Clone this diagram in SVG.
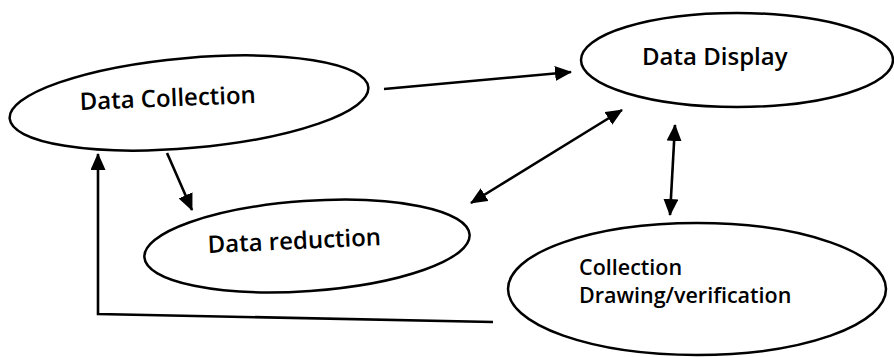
<svg xmlns="http://www.w3.org/2000/svg" width="894" height="357" viewBox="0 0 894 357">
  <style>
    .node { fill: #ffffff; stroke: #000000; stroke-width: 2.5; }
    .lbl { font-family: "Open Sans", "Liberation Sans", sans-serif; fill: #000000; font-weight: 600; }
    .big { font-size: 24px; }
    .small { font-size: 21.5px; }
    .conn { fill: none; stroke: #000000; stroke-width: 2.6; }
  </style>
  <defs>
    <marker id="ah" viewBox="0 0 17 15" refX="16" refY="7.5" markerWidth="17" markerHeight="15" markerUnits="userSpaceOnUse" orient="auto-start-reverse">
      <polygon points="0,0 17,7.5 0,15" fill="#000000"/>
    </marker>
  </defs>
  <rect width="894" height="357" fill="#ffffff"/>

  <g id="node-data-collection">
    <ellipse class="node" cx="189" cy="103" rx="180" ry="45" transform="rotate(-5 189 103)"/>
    <text class="lbl big" x="80" y="110" transform="rotate(-2.3 80 110)">Data Collection</text>
  </g>

  <g id="node-data-display">
    <ellipse class="node" cx="737" cy="60" rx="156" ry="47"/>
    <text class="lbl big" x="642" y="65">Data Display</text>
  </g>

  <g id="node-data-reduction">
    <ellipse class="node" cx="307" cy="246" rx="163" ry="45" transform="rotate(-4 307 246)"/>
    <text class="lbl big" x="208" y="253" transform="rotate(-2.6 208 253)">Data reduction</text>
  </g>

  <g id="node-collection-drawing">
    <ellipse class="node" cx="697" cy="289" rx="189" ry="66"/>
    <text class="lbl small" x="579" y="275">Collection</text>
    <text class="lbl small" x="579" y="303">Drawing/verification</text>
  </g>

  <g id="connectors">
    <path class="conn" d="M384,89 L571,72" marker-end="url(#ah)"/>
    <path class="conn" d="M167,153 L192,210" marker-end="url(#ah)"/>
    <path class="conn" d="M471,203 L622,110" marker-start="url(#ah)" marker-end="url(#ah)"/>
    <path class="conn" d="M675,125 L670,215" marker-start="url(#ah)" marker-end="url(#ah)"/>
    <path class="conn" d="M493,322 L98,314 L98,154" marker-end="url(#ah)"/>
  </g>
</svg>
